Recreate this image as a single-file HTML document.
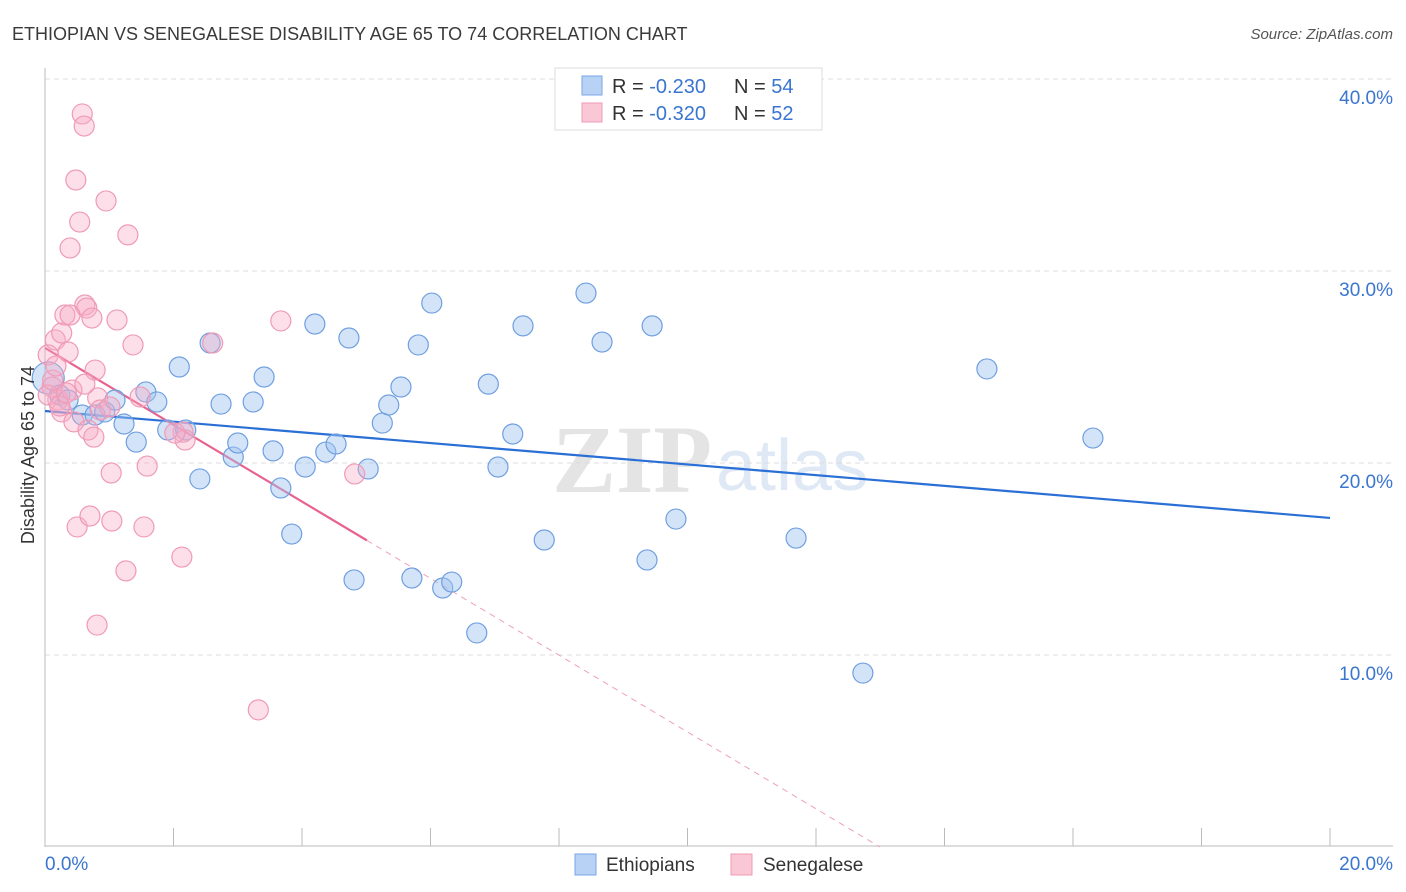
<!DOCTYPE html>
<html><head><meta charset="utf-8"><style>
body{margin:0;background:#fff;font-family:"Liberation Sans",sans-serif;}
svg{display:block}
</style></head><body>
<svg id="chart" width="1406" height="892" xmlns="http://www.w3.org/2000/svg">
<text x="12" y="40" font-size="18" fill="#3a3a3a">ETHIOPIAN VS SENEGALESE DISABILITY AGE 65 TO 74 CORRELATION CHART</text>
<text x="1393" y="39" font-size="15" fill="#555" font-style="italic" text-anchor="end">Source: ZipAtlas.com</text>
<g>
<text x="552" y="492" font-size="96" font-family="Liberation Serif,serif" fill="#e4e4e4" font-weight="bold">ZIP</text>
<text x="716" y="490" font-size="72" fill="#dfe8f5">atlas</text>
</g>
<g id="grid"></g>
<g id="axes"></g>
<g id="lines"></g>
<g id="points"></g>
<text transform="translate(34,455) rotate(-90)" font-size="18" fill="#333" text-anchor="middle">Disability Age 65 to 74</text>
<g>
<rect x="555" y="68" width="267" height="62" fill="#fff" stroke="#ddd"/>
<rect x="582" y="76" width="20" height="19" fill="#b8d2f5" stroke="#7aa6e6"/>
<text x="612" y="93" font-size="20" fill="#333">R = <tspan fill="#3a75d0">-0.230</tspan></text>
<text x="734" y="93" font-size="20" fill="#333">N = <tspan fill="#3a75d0">54</tspan></text>
<rect x="582" y="103" width="20" height="19" fill="#f9c7d6" stroke="#ef9bb5"/>
<text x="612" y="120" font-size="20" fill="#333">R = <tspan fill="#3a75d0">-0.320</tspan></text>
<text x="734" y="120" font-size="20" fill="#333">N = <tspan fill="#3a75d0">52</tspan></text>
</g>
<g>
<rect x="575" y="854" width="21" height="21" fill="#b8d2f5" stroke="#7aa6e6"/>
<text x="606" y="871" font-size="19" fill="#333">Ethiopians</text>
<rect x="731" y="854" width="21" height="21" fill="#f9c7d6" stroke="#ef9bb5"/>
<text x="763" y="871" font-size="19" fill="#333">Senegalese</text>
</g>
</svg>
<script>
const yTicks=[10,20,30,40];
const yTickLabels=["10.0%","20.0%","30.0%","40.0%"];
const xTickVals=[0,2,4,6,8,10,12,14,16,18,20];
const xEndLabels=["0.0%","20.0%"];
const ethX=[0.05,0.23,0.36,0.58,0.78,0.93,1.09,1.23,1.42,1.57,1.74,1.91,2.09,2.19,2.41,2.57,2.74,2.93,3.0,3.24,3.41,3.55,3.67,3.84,4.05,4.2,4.37,4.53,4.73,4.81,5.03,5.25,5.35,5.54,5.71,5.81,6.02,6.19,6.33,6.72,6.9,7.05,7.28,7.44,7.77,8.42,8.67,9.37,9.45,9.82,11.69,12.73,14.66,16.31];
const ethY=[24.43,23.54,23.28,22.5,22.5,22.66,23.28,22.03,21.09,23.7,23.18,21.72,25.0,21.72,19.17,26.25,23.07,20.31,21.04,23.18,24.48,20.63,18.7,16.3,19.79,27.24,20.57,20.99,26.51,13.91,19.69,22.08,23.02,23.96,14.01,26.15,28.33,13.49,13.8,11.15,24.11,19.79,21.51,27.14,15.99,28.85,26.3,14.95,27.14,17.08,16.09,9.06,24.9,21.3];
const senX=[0.05,0.11,0.16,0.2,0.26,0.26,0.31,0.36,0.39,0.42,0.45,0.48,0.5,0.54,0.58,0.61,0.62,0.65,0.67,0.7,0.73,0.76,0.78,0.81,0.82,0.86,0.95,1.03,1.04,1.12,1.26,1.29,1.37,1.48,1.54,1.59,2.13,2.15,2.18,2.61,3.32,3.67,4.82,0.05,0.12,0.23,0.33,0.62,1.01,2.02,0.17,0.39];
const senY=[25.63,23.96,26.41,23.28,22.66,26.77,27.71,25.78,31.2,23.8,22.14,34.74,16.67,32.55,38.18,37.55,28.23,28.07,21.72,17.24,27.55,21.35,24.84,11.56,23.39,22.76,33.65,19.48,16.98,27.45,14.38,31.88,26.15,23.44,16.67,19.84,15.1,21.61,21.2,26.25,7.14,27.4,19.43,23.54,24.32,22.97,23.65,24.11,22.92,21.56,25.05,27.71];
const ethTrend=[22.71,17.14]; // value at x=0 and x=20
const senTrend=[25.99,-2.0,5.01]; // intercept, slope, solid end x

const NS="http://www.w3.org/2000/svg";
const X=v=>45+v*64.25, Y=v=>847-v*19.2;
function mk(tag,attrs,parent){const e=document.createElementNS(NS,tag);for(const k in attrs)e.setAttribute(k,attrs[k]);document.getElementById(parent).appendChild(e);return e;}
yTicks.forEach((t,i)=>{
 const g=mk('line',{x1:45,x2:1393,y1:Y(t),y2:Y(t),stroke:'#ddd','stroke-dasharray':'5,4'},'grid');
 
 
 const l=mk('text',{x:1393,y:Y(t)+25,'font-size':19,fill:'#3a75d0','text-anchor':'end'},'axes');
 l.textContent=yTickLabels[i];
 
 
});
const ya=mk('line',{x1:45,x2:45,y1:68,y2:847,stroke:'#bbb'},'axes');


const xa=mk('line',{x1:45,x2:1393,y1:846,y2:846,stroke:'#bbb'},'axes');


xTickVals.forEach(v=>{
 const t=mk('line',{x1:X(v),x2:X(v),y1:828,y2:846,stroke:'#bbb'},'axes');
 
 
});
const xl0=mk('text',{x:45,y:870,'font-size':19,fill:'#3a75d0'},'axes');
xl0.textContent=xEndLabels[0];


const xl1=mk('text',{x:1393,y:870,'font-size':19,fill:'#3a75d0','text-anchor':'end'},'axes');
xl1.textContent=xEndLabels[1];



ethX.forEach((x,i)=>{
 const c=mk('circle',{cx:X(x),cy:Y(ethY[i]),r:i===0?16:10,fill:'rgba(160,196,240,0.45)',stroke:'#6f9fe0','stroke-width':1.2},'points');
 
 
});
senX.forEach((x,i)=>{
 const c=mk('circle',{cx:X(x),cy:Y(senY[i]),r:10,fill:'rgba(246,172,196,0.38)',stroke:'#f09ab5','stroke-width':1.2},'points');
 
 
});
const bl=mk('line',{x1:X(0),y1:Y(ethTrend[0]),x2:X(20),y2:Y(ethTrend[1]),stroke:'#2a6fd6','stroke-width':2.2},'lines');


const sEnd=senTrend[2], zeroX=-senTrend[0]/senTrend[1];
const pl=mk('line',{x1:X(0),y1:Y(senTrend[0]),x2:X(sEnd),y2:Y(senTrend[0]+senTrend[1]*sEnd),stroke:'#e8628e','stroke-width':2.2},'lines');


const pd=mk('line',{x1:X(sEnd),y1:Y(senTrend[0]+senTrend[1]*sEnd),x2:X(zeroX),y2:Y(0),stroke:'#eea0b8','stroke-width':1,'stroke-dasharray':'6,5'},'lines');


</script>
</body></html>
